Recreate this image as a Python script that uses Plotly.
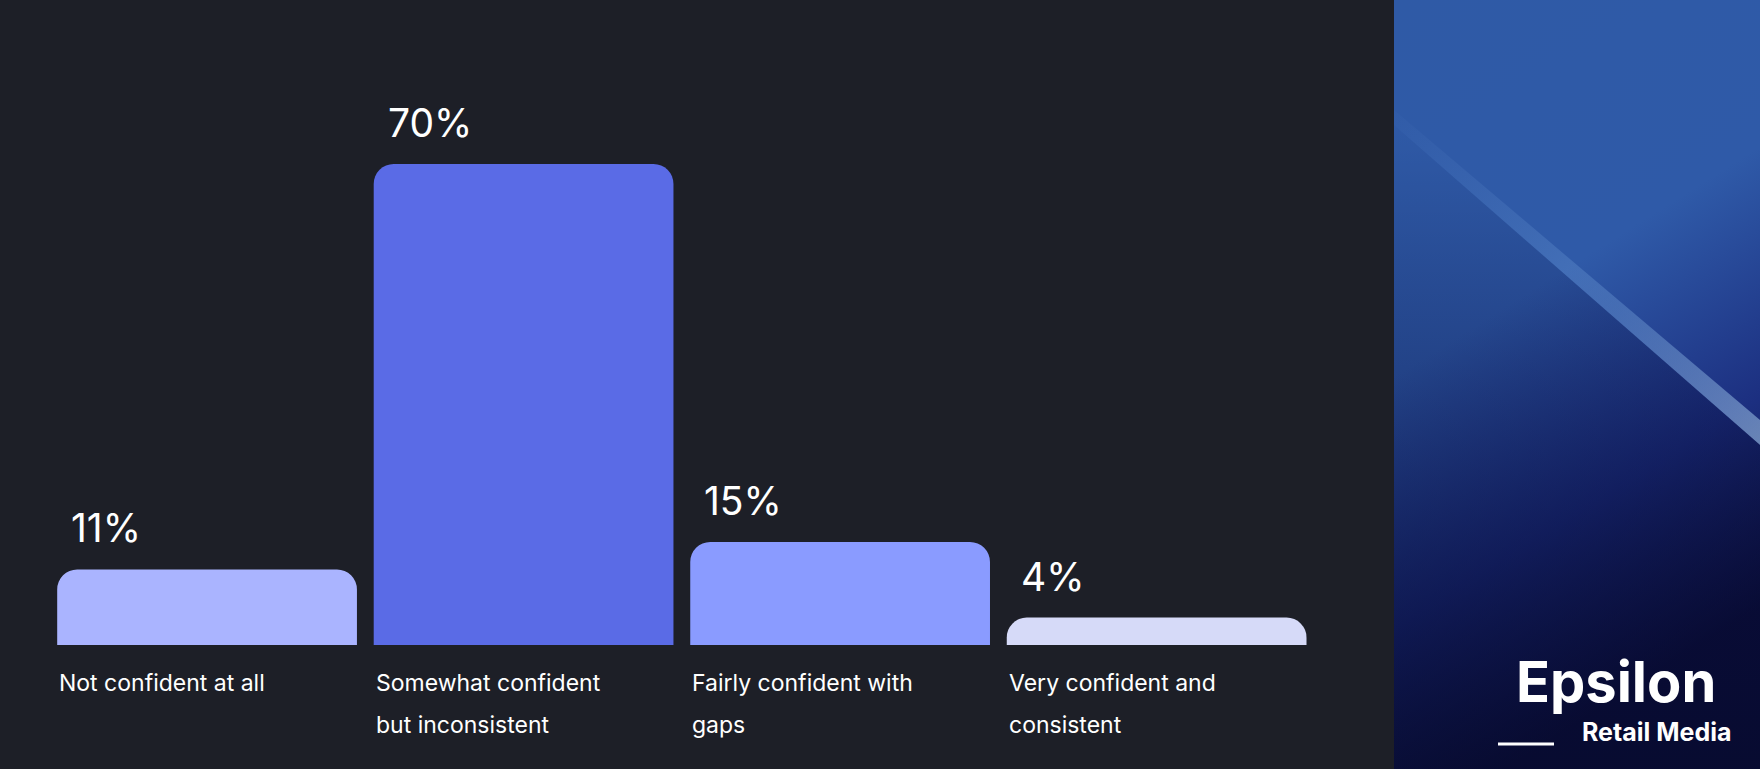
import plotly.graph_objects as go
import base64

categories = [["Not confident at all"], ["Somewhat confident", "but inconsistent"],
              ["Fairly confident with", "gaps"], ["Very confident and", "consistent"]]
values = [11, 70, 15, 4]
labels = ["11%", "70%", "15%", "4%"]
colors = ["#aab4ff", "#5a6be6", "#8a9bff", "#d6daf8"]

W, H = 1760, 769
BG = "#1d1f27"

fig = go.Figure(go.Bar(
    x=list(range(4)), y=values, marker=dict(color=colors, line=dict(width=0), cornerradius=20),
    hoverinfo="skip", width=0.947))

for i, (v, t) in enumerate(zip(values, labels)):
    fig.add_annotation(x=i, y=v, text=t, xref="x", yref="y", xanchor="left", yanchor="bottom",
                       xshift=-138, yshift=16, showarrow=False,
                       font=dict(family="Inter", size=39, color="#ffffff"))
    for j, line in enumerate(categories[i]):
        fig.add_annotation(x=i, y=0, text=line, xref="x", yref="y", xanchor="left", yanchor="top",
                           xshift=-150, yshift=-22 - 42 * j, showarrow=False, align="left",
                           font=dict(family="Inter", size=23, color="#ffffff"))

svg = '''<svg xmlns="http://www.w3.org/2000/svg" width="366" height="769" viewBox="0 0 366 769">
<defs>
<linearGradient id="g" x1="0" y1="0" x2="0.3" y2="1">
<stop offset="0" stop-color="#2f5aa6"/><stop offset="0.45" stop-color="#2f5aa8"/>
<stop offset="0.75" stop-color="#1c2f80"/><stop offset="1" stop-color="#0e1240"/></linearGradient>
<linearGradient id="s" x1="0" y1="0" x2="1" y2="1">
<stop offset="0" stop-color="#6f9ad8" stop-opacity="0.05"/><stop offset="0.6" stop-color="#8fc0f0" stop-opacity="0.45"/>
<stop offset="1" stop-color="#c0e8ff" stop-opacity="0.8"/></linearGradient>
<linearGradient id="d" x1="0" y1="0" x2="0" y2="1">
<stop offset="0" stop-color="#000030" stop-opacity="0"/><stop offset="1" stop-color="#05082a" stop-opacity="0.7"/></linearGradient>
</defs>
<rect width="366" height="769" fill="url(#g)"/>
<polygon points="0,110 366,420 366,445 0,125" fill="url(#s)" opacity="0.6"/>
<polygon points="0,125 366,445 366,769 0,769" fill="url(#d)"/>
</svg>'''
src = "data:image/svg+xml;base64," + base64.b64encode(svg.encode()).decode()
fig.add_layout_image(source=src, xref="paper", yref="paper", x=1394/W, y=1, sizex=366/W, sizey=1,
                     xanchor="left", yanchor="top", sizing="stretch", layer="below")

fig.add_annotation(xref="paper", yref="paper", x=1616/W, y=1-682/H, text="<b>Epsilon</b>",
                   showarrow=False, xanchor="center", yanchor="middle",
                   font=dict(family="Inter", size=56, color="#ffffff"))
fig.add_annotation(xref="paper", yref="paper", x=1734/W, y=1-732/H, text="<b>Retail Media</b>",
                   showarrow=False, xanchor="right", yanchor="middle",
                   font=dict(family="Inter", size=25, color="#ffffff"))
fig.add_shape(type="line", xref="paper", yref="paper", x0=1498/W, x1=1554/W, y0=1-744/H, y1=1-744/H,
              line=dict(color="#ffffff", width=3))

fig.update_layout(
    width=W, height=H, margin=dict(l=0, r=0, t=0, b=0),
    paper_bgcolor=BG, plot_bgcolor=BG, showlegend=False, bargap=0.053,
    xaxis=dict(domain=[48.8/W, 1314.9/W], range=[-0.5, 3.5], visible=False),
    yaxis=dict(domain=[124/H, 673.7/H], range=[0, 80], visible=False),
)
fig.write_html("out.html", config={"displayModeBar": False},
               post_script="document.body.style.margin='0';document.body.style.background='#1d1f27';")
